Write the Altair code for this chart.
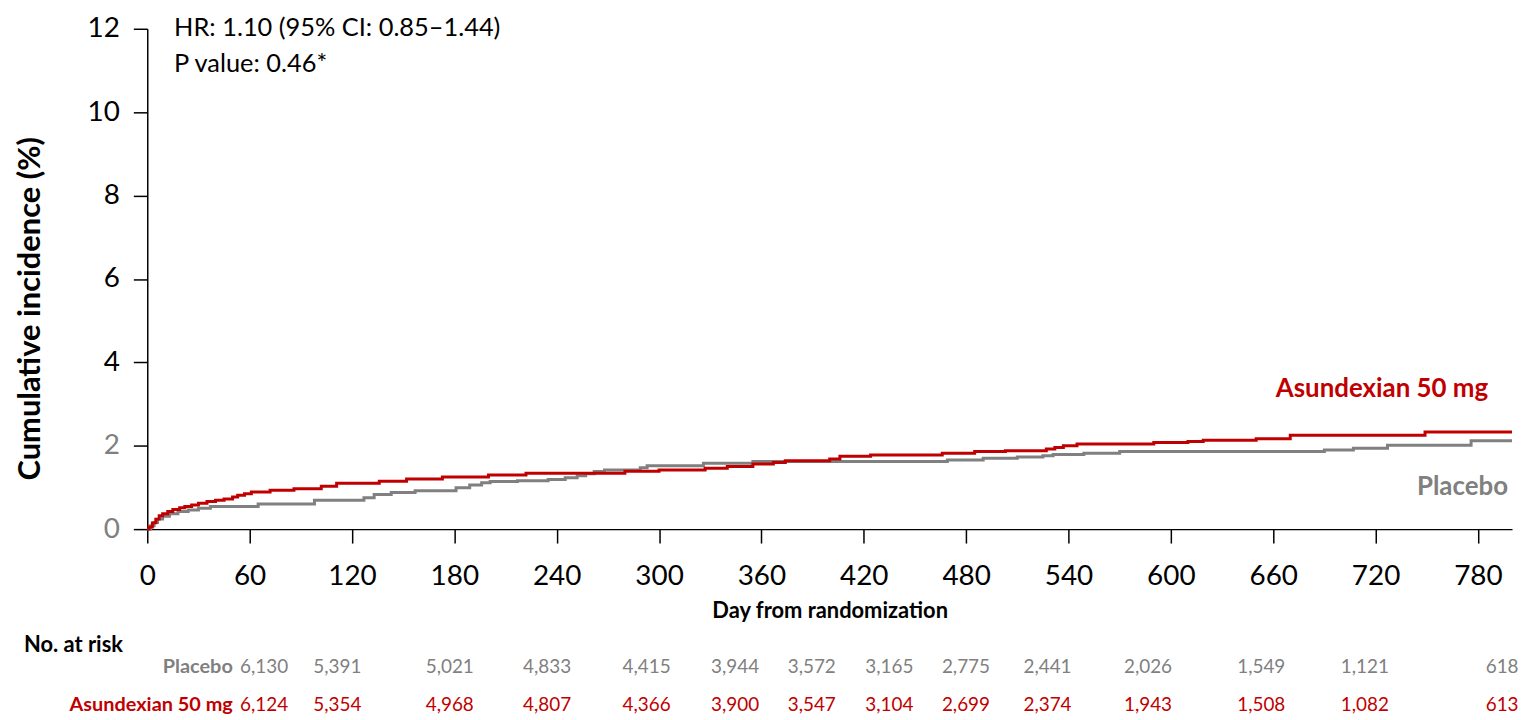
import altair as alt
import pandas as pd

# ---- Kaplan-Meier style cumulative incidence (%) ----
placebo_day = [0, 2, 4, 6, 9, 13, 18, 24, 30, 37, 65, 98, 127, 133, 143, 157, 181, 189,
               196, 201, 217, 235, 245, 252, 257, 262, 268, 289, 293, 326, 355, 469, 490,
               510, 525, 531, 549, 570, 690, 707, 727, 776, 800]
placebo_pct = [0, 0.08, 0.16, 0.24, 0.31, 0.37, 0.42, 0.46, 0.50, 0.54, 0.60, 0.69, 0.75,
               0.83, 0.88, 0.92, 0.99, 1.06, 1.11, 1.14, 1.16, 1.19, 1.23, 1.28, 1.33, 1.38,
               1.42, 1.47, 1.52, 1.58, 1.62, 1.66, 1.70, 1.73, 1.76, 1.79, 1.82, 1.86, 1.90,
               1.94, 2.01, 2.12, 2.12]

asx_day = [0, 1, 3, 5, 7, 9, 12, 15, 19, 22, 26, 30, 35, 40, 45, 50, 53, 57, 61, 72, 86,
           102, 111, 136, 152, 173, 200, 222, 280, 300, 327, 340, 355, 367, 374, 400, 406,
           424, 466, 485, 503, 527, 532, 537, 545, 590, 610, 619, 650, 670, 749, 800]
asx_pct = [0, 0.05, 0.15, 0.24, 0.32, 0.37, 0.42, 0.47, 0.51, 0.54, 0.58, 0.62, 0.66, 0.69,
           0.72, 0.77, 0.81, 0.85, 0.89, 0.93, 0.97, 1.03, 1.10, 1.15, 1.20, 1.25, 1.30,
           1.34, 1.39, 1.42, 1.46, 1.50, 1.56, 1.60, 1.64, 1.68, 1.75, 1.78, 1.82, 1.86,
           1.88, 1.92, 1.96, 2.00, 2.04, 2.08, 2.10, 2.13, 2.17, 2.25, 2.33, 2.33]

x_ticks = [0, 60, 120, 180, 240, 300, 360, 420, 480, 540, 600, 660, 720, 780]
y_ticks = [0, 2, 4, 6, 8, 10, 12]

# ---- Number at risk table ----
risk_placebo = ["6,130", "5,391", "5,021", "4,833", "4,415", "3,944", "3,572", "3,165",
                "2,775", "2,441", "2,026", "1,549", "1,121", "618"]
risk_asx = ["6,124", "5,354", "4,968", "4,807", "4,366", "3,900", "3,547", "3,104",
            "2,699", "2,374", "1,943", "1,508", "1,082", "613"]
# where each at-risk column sits along the day axis in the original table layout
risk_label_day = [68.5, 111.4, 177.3, 234.4, 292.7, 344.6, 389.5, 435, 479.9, 527.7,
                  586.6, 653, 713.7, 794.2]

RED = "#C00000"
GREY = "#808080"
FONT = "Lato"
XT = "Day from randomization"
YT = "Cumulative incidence (%)"

df_p = pd.DataFrame({"day": placebo_day, "pct": placebo_pct})
df_a = pd.DataFrame({"day": asx_day, "pct": asx_pct})
df_risk = pd.DataFrame({"day": risk_label_day, "placebo": risk_placebo, "asx": risk_asx})

x_enc = alt.X(
    "day:Q", title=XT,
    scale=alt.Scale(domain=[0, 800], nice=False, zero=False),
    axis=alt.Axis(
        values=x_ticks, grid=False,
        labelFontSize=28, labelFont=FONT, labelColor="black", labelPadding=20,
        tickSize=14, tickColor="black", tickWidth=1.5, domainColor="black", domainWidth=1.5,
        titleFont=FONT, titleFontSize=22, titleFontWeight="bold", titleColor="black",
        titleY=82, titleBaseline="middle", labelFlush=False, labelOverlap=False,
    ),
)
y_enc = alt.Y(
    "pct:Q", title=YT,
    scale=alt.Scale(domain=[0, 12], nice=False),
    axis=alt.Axis(
        values=y_ticks, grid=False,
        labelFontSize=28, labelFont=FONT,
        labelColor=alt.condition("datum.value <= 2", alt.value(GREY), alt.value("black")),
        labelPadding=14, tickSize=14, tickColor="black", tickWidth=1.5,
        domainColor="black", domainWidth=1.5,
        titleFont=FONT, titleFontSize=31, titleFontWeight="bold", titleColor="black",
        titleAngle=270, titleX=-117, titleY=281, titleAlign="center", titleBaseline="middle",
        labelFlush=False,
    ),
)

placebo_line = alt.Chart(df_p).mark_line(
    interpolate="step-after", color=GREY, strokeWidth=3
).encode(x=x_enc, y=y_enc)

asx_line = alt.Chart(df_a).mark_line(
    interpolate="step-after", color=RED, strokeWidth=3
).encode(x=alt.X("day:Q", title=XT), y=alt.Y("pct:Q", title=YT))

def note(text, x, y, size, color="black", weight="normal", align="left"):
    return alt.Chart(pd.DataFrame({"t": [text]})).mark_text(
        font=FONT, fontSize=size, color=color, fontWeight=weight, align=align,
        baseline="middle"
    ).encode(text="t:N", x=alt.value(x), y=alt.value(y))

hr = note("HR: 1.10 (95% CI: 0.85\u20131.44)", 27, -1, 25.5)
pv = note("P value: 0.46*", 27, 35, 25.5)
lab_a = note("Asundexian 50 mg", 1348, 362, 26, RED, "bold", "right")
lab_p = note("Placebo", 1368, 461, 26, GREY, "bold", "right")
no_risk = note("No. at risk", -124, 620, 22, "black", "bold")
row_p = note("Placebo", 86, 642, 20, GREY, "bold", "right")
row_a = note("Asundexian 50 mg", 86, 680, 20, RED, "bold", "right")

risk_p = alt.Chart(df_risk).mark_text(
    font=FONT, fontSize=19, color=GREY, baseline="middle"
).encode(x=alt.X("day:Q", title=XT), y=alt.value(642), text="placebo:N")
risk_a = alt.Chart(df_risk).mark_text(
    font=FONT, fontSize=19, color=RED, baseline="middle"
).encode(x=alt.X("day:Q", title=XT), y=alt.value(680), text="asx:N")

chart = alt.layer(
    placebo_line, asx_line, hr, pv, lab_a, lab_p, no_risk, row_p, row_a, risk_p, risk_a
).properties(
    width=1372, height=503,
    autosize=alt.AutoSizeParams(type="none"),
    padding={"left": 140, "top": 19, "right": 7, "bottom": 190},
).configure_view(stroke=None)

chart.save("out.html", embed_options={"renderer": "svg", "actions": False})
